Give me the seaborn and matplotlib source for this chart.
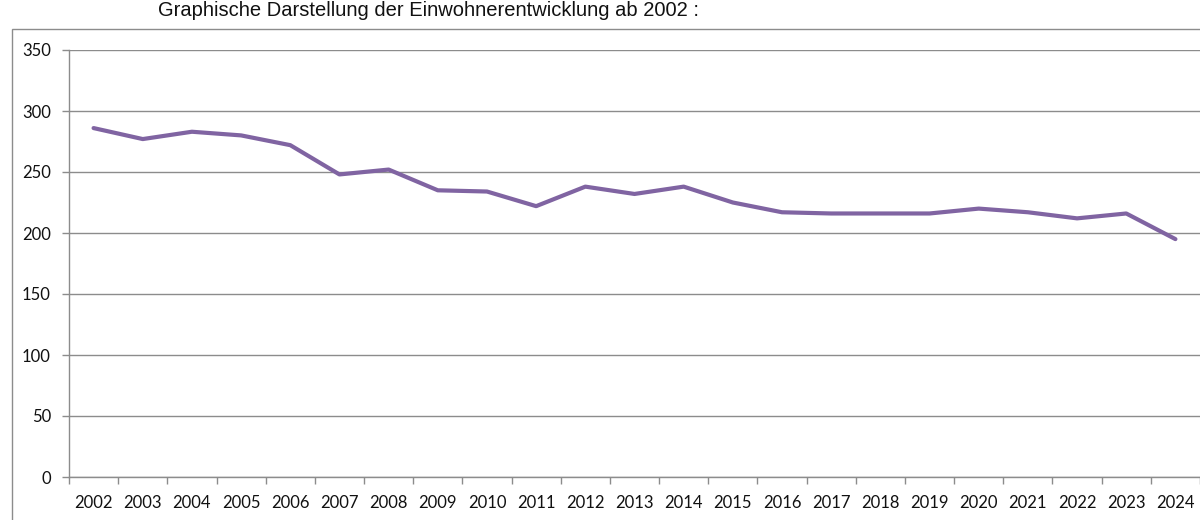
import matplotlib
matplotlib.use("Agg")
import matplotlib.pyplot as plt
import seaborn as sns
import pandas as pd
from matplotlib.patches import Rectangle

# values
years = [str(y) for y in range(2002, 2025)]
einwohner = [286, 277, 283, 280, 272, 248, 252, 235, 234, 222, 238, 232, 238,
             225, 217, 216, 216, 216, 220, 217, 212, 216, 195]
y_ticks = [0, 50, 100, 150, 200, 250, 300, 350]

df = pd.DataFrame({"Jahr": years, "Einwohner": einwohner})

sns.set_theme(style="white")
plt.rcParams["font.family"] = ["Lato", "DejaVu Sans"]

fig = plt.figure(figsize=(12, 5.2), dpi=100)
ax = fig.add_axes([69 / 1200, 43 / 520, 1131 / 1200, 427 / 520])

pos = list(range(len(years)))
df["pos"] = pos
sns.lineplot(data=df, x="pos", y="Einwohner", ax=ax, color="#8064A2",
             linewidth=3.0, legend=False)

ax.set_xlim(-0.5, len(years) - 0.5)
ax.set_ylim(0, 350)
ax.set_yticks(y_ticks)
ax.yaxis.grid(True, color="#8c8c8c", linewidth=1.0)
ax.set_axisbelow(True)

# category ticks between labels, labels centered
ax.set_xticks([p - 0.5 for p in pos] + [len(years) - 0.5])
ax.set_xticklabels([])
ax.set_xticks(pos, minor=True)
ax.set_xticklabels(years, minor=True, fontsize=12, color="#111111")
ax.tick_params(axis="x", which="minor", length=0, pad=13)
ax.tick_params(axis="x", which="major", length=5, width=1, color="#8c8c8c",
               direction="out", bottom=True)
ax.tick_params(axis="y", length=5, width=1, color="#8c8c8c", direction="out",
               left=True, labelsize=12, labelcolor="#111111", pad=8)

for s in ["top", "right"]:
    ax.spines[s].set_visible(False)
for s in ["left", "bottom"]:
    ax.spines[s].set_color("#8c8c8c")
    ax.spines[s].set_linewidth(1.0)
ax.set_xlabel("")
ax.set_ylabel("")

# outer chart frame
fig.patches.append(Rectangle((12 / 1200, -0.05), 1.1, (520 - 29) / 520 + 0.05,
                             transform=fig.transFigure, fill=False,
                             edgecolor="#8c8c8c", linewidth=1.0))

fig.text(158 / 1200, 1 - 11 / 520, "Graphische Darstellung der Einwohnerentwicklung ab 2002 :",
         ha="left", va="center", fontsize=14.5, family=["Liberation Sans"], color="#111111")

fig.savefig("out.png", dpi=100)
